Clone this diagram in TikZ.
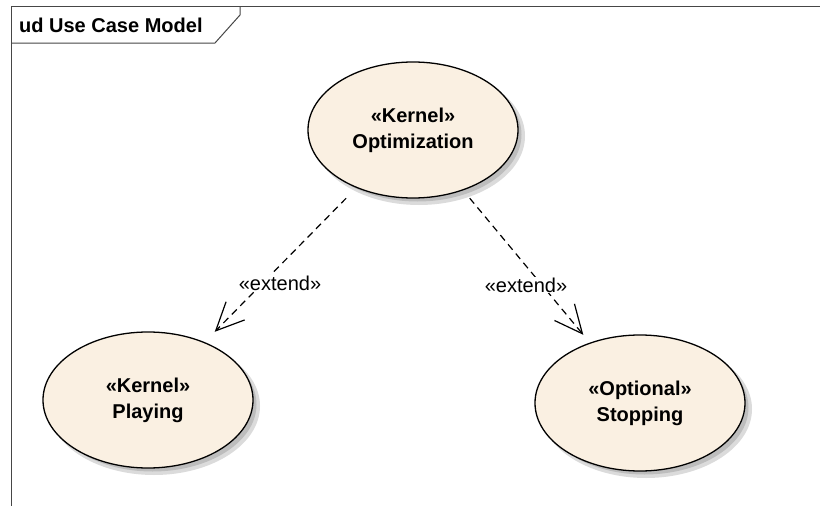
\documentclass[tikz,border=0pt]{standalone}
\usepackage{fontspec}
\setmainfont{Liberation Sans}
\usetikzlibrary{arrows.meta}
\definecolor{ucfill}{RGB}{250,240,226}
\definecolor{framecol}{RGB}{70,70,70}
\begin{document}
\begin{tikzpicture}[x=1pt,y=-1pt,
  framestyle/.style={draw=framecol, line width=1pt},
  ucbox/.style={rectangle, minimum width=210pt, minimum height=136pt, inner sep=0pt,
    align=center, font=\fontsize{20}{26}\selectfont\bfseries},
  ucline/.style={draw=black, line width=1.3pt, fill=ucfill},
  ucshadowA/.style={fill=black!14},
  ucshadowB/.style={fill=black!26},
  extendline/.style={draw=black, line width=1.2pt, dash pattern=on 7pt off 5pt,
    -{Straight Barb[length=28pt, width=26pt, line width=1.2pt]}},
  lbl/.style={fill=white, inner sep=1pt, font=\fontsize{20}{24}\selectfont}
]
\useasboundingbox (0,0) rectangle (820,506);
\fill[white] (0,0) rectangle (820,506);

% diagram frame and its name tab
\draw[framestyle] (11,506) -- (11,6) -- (820,6);
\draw[framestyle] (11,43) -- (215,43) -- (240,15) -- (240,6);
\node[anchor=west, inner sep=0pt, font=\fontsize{20}{24}\selectfont\bfseries] (title) at (19,25) {ud Use Case Model};

% use case centres
\coordinate (optc)  at (413,130);
\coordinate (playc) at (148,400);
\coordinate (stopc) at (640,403);

% use case ellipses with their drop shadows
\foreach \n in {optc,playc,stopc}{
  \fill[ucshadowA] ([shift={(6,6)}]\n) ellipse [x radius=106, y radius=69];
  \fill[ucshadowB] ([shift={(4.5,4.5)}]\n) ellipse [x radius=104, y radius=67];
  \path[ucline] (\n) ellipse [x radius=105, y radius=68];
}

% use case texts (bounding boxes used for connector ends)
\node[ucbox] (opt)  at (optc)  {«Kernel»\\Optimization};
\node[ucbox] (play) at (playc) {«Kernel»\\Playing};
\node[ucbox] (stop) at (stopc) {«Optional»\\Stopping};

% extend relationships
\draw[extendline] (opt) -- (play);
\draw[extendline] (opt) -- (stop);
\node[lbl] (ext1) at (280,283) {«extend»};
\node[lbl] (ext2) at (526,285) {«extend»};
\end{tikzpicture}
\end{document}
